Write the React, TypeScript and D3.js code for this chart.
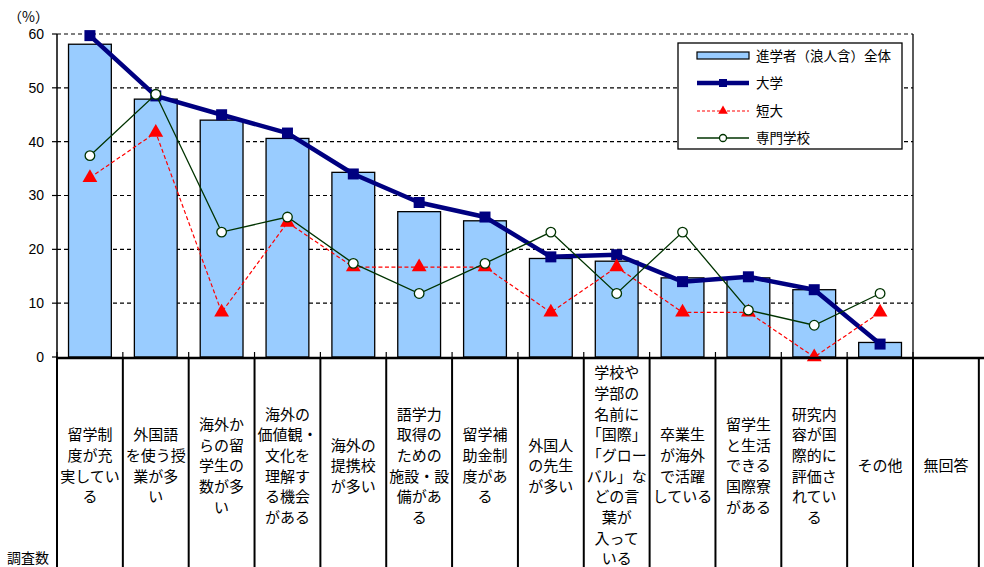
import React from "react";
import * as d3 from "d3";

const categories: string[][] = [
  ["留学制", "度が充", "実してい", "る"],
  ["外国語", "を使う授", "業が多", "い"],
  ["海外か", "らの留", "学生の", "数が多", "い"],
  ["海外の", "価値観・", "文化を", "理解す", "る機会", "がある"],
  ["海外の", "提携校", "が多い"],
  ["語学力", "取得の", "ための", "施設・設", "備があ", "る"],
  ["留学補", "助金制", "度があ", "る"],
  ["外国人", "の先生", "が多い"],
  ["学校や", "学部の", "名前に", "「国際」", "「グロー", "バル」な", "どの言", "葉が", "入って", "いる"],
  ["卒業生", "が海外", "で活躍", "している"],
  ["留学生", "と生活", "できる", "国際寮", "がある"],
  ["研究内", "容が国", "際的に", "評価さ", "れてい", "る"],
  ["その他"],
  ["無回答"],
];

const overall = [58.1, 47.9, 44.0, 40.6, 34.3, 27.0, 25.3, 18.3, 17.8, 14.7, 14.7, 12.5, 2.7];
const univ = [59.7, 48.5, 45.0, 41.6, 34.0, 28.7, 26.0, 18.6, 19.0, 14.0, 14.9, 12.5, 2.4];
const junior = [33.3, 41.7, 8.3, 25.0, 16.7, 16.7, 16.7, 8.3, 16.7, 8.3, 8.3, 0, 8.3];
const vocational = [37.4, 48.8, 23.2, 26.0, 17.4, 11.8, 17.4, 23.2, 11.8, 23.2, 8.7, 5.9, 11.8];
const yTicks = [0, 10, 20, 30, 40, 50, 60];
const legendLabels = ["進学者（浪人含）全体", "大学", "短大", "専門学校"];

const W = 984, H = 567;
const left = 57, right = 913, top = 34, bottom = 357;
const JP = "'Noto Sans CJK JP', 'Liberation Sans', sans-serif";
const NUM = "'Liberation Sans', Arial, sans-serif";

export default function App() {
  const nPlot = overall.length;
  const step = (right - left) / nPlot;
  const x = d3.scaleBand<number>().domain(d3.range(nPlot)).range([left, right]).paddingInner(0.35).paddingOuter(0.175);
  const cx = (i: number) => left + step * (i + 0.5);
  const y = d3.scaleLinear().domain([0, 60]).range([bottom, top]);
  const line = d3.line<number>().x((_, i) => cx(i)).y((d) => y(d));
  const tri = d3.symbol().type(d3.symbolTriangle).size(95)();

  const lineH = 20.7;
  const labelCenter = 466;

  const legX0 = 697, legX1 = 749, legTx = 756;
  const legRows = [56, 83, 111, 138];

  return (
    <svg width={W} height={H} style={{ position: "absolute", left: 0, top: 0, background: "#fff" }}>
      {yTicks.filter((t) => t > 0).map((t) => (
        <line key={t} x1={left} x2={right} y1={y(t)} y2={y(t)} stroke="#000" strokeWidth={1.2} strokeDasharray="4,3" />
      ))}
      <line x1={right} x2={right} y1={top} y2={bottom} stroke="#000" strokeWidth={1.3} />
      {overall.map((v, i) => (
        <rect key={i} x={x(i)} y={y(v)} width={x.bandwidth()} height={bottom - y(v)} fill="#99CCFF" stroke="#000" strokeWidth={1.3} />
      ))}
      <line x1={left} x2={left} y1={top} y2={bottom} stroke="#000" strokeWidth={1.5} />
      {yTicks.map((t) => (
        <g key={t}>
          <line x1={left - 5} x2={left} y1={y(t)} y2={y(t)} stroke="#000" strokeWidth={1.2} />
          <text x={left - 13} y={y(t)} dy="0.35em" textAnchor="end" fontFamily={NUM} fontSize={14} fill="#000">{t}</text>
        </g>
      ))}
      <text x={8} y={17} dy="0.35em" fontFamily={JP} fontSize={14} fill="#000">（%）</text>
      {d3.range(nPlot + 1).map((i) => (
        <line key={i} x1={left + step * i} x2={left + step * i} y1={bottom - 5} y2={bottom} stroke="#000" strokeWidth={1.2} />
      ))}
      <path d={line(univ) || ""} fill="none" stroke="#000080" strokeWidth={4.5} strokeLinejoin="round" />
      {univ.map((v, i) => (
        <rect key={i} x={cx(i) - 5.5} y={y(v) - 5.5} width={11} height={11} fill="#000080" />
      ))}
      <path d={line(junior) || ""} fill="none" stroke="#FF0000" strokeWidth={1.2} strokeDasharray="4,2.5" />
      {junior.map((v, i) => (
        <path key={i} d={tri || ""} transform={`translate(${cx(i)},${y(v)})`} fill="#FF0000" />
      ))}
      <path d={line(vocational) || ""} fill="none" stroke="#003300" strokeWidth={1.3} />
      {vocational.map((v, i) => (
        <circle key={i} cx={cx(i)} cy={y(v)} r={4.8} fill="#fff" stroke="#003300" strokeWidth={1.3} />
      ))}
      <line x1={left} x2={W} y1={bottom + 1} y2={bottom + 1} stroke="#000" strokeWidth={2.5} />
      {d3.range(categories.length + 1).map((i) => (
        <line key={i} x1={left + step * i} x2={left + step * i} y1={bottom} y2={H} stroke="#000" strokeWidth={2} />
      ))}
      {categories.map((lines, i) => {
        const c = left + step * (i + 0.5);
        const y0 = labelCenter - ((lines.length - 1) * lineH) / 2;
        return (
          <text key={i} textAnchor="middle" fontFamily={JP} fontSize={15} fill="#000">
            {lines.map((l, k) => (
              <tspan key={k} x={c} y={y0 + k * lineH} dy="0.35em">{l}</tspan>
            ))}
          </text>
        );
      })}
      <text x={7} y={558} dy="0.35em" fontFamily={JP} fontSize={14} fill="#000">調査数</text>
      <rect x={678} y={43} width={224} height={106} fill="#fff" stroke="#000" strokeWidth={1.3} />
      <rect x={legX0} y={52} width={legX1 - legX0} height={7} fill="#99CCFF" stroke="#000" strokeWidth={1.2} />
      <line x1={legX0} x2={legX1} y1={legRows[1]} y2={legRows[1]} stroke="#000080" strokeWidth={4.5} />
      <rect x={(legX0 + legX1) / 2 - 4} y={legRows[1] - 4} width={8} height={8} fill="#000080" />
      <line x1={legX0} x2={legX1} y1={legRows[2]} y2={legRows[2]} stroke="#FF0000" strokeWidth={1.2} strokeDasharray="3,2" />
      <path d={d3.symbol().type(d3.symbolTriangle).size(40)() || ""} transform={`translate(${(legX0 + legX1) / 2},${legRows[2]})`} fill="#FF0000" />
      <line x1={legX0} x2={legX1} y1={legRows[3]} y2={legRows[3]} stroke="#003300" strokeWidth={1.3} />
      <circle cx={(legX0 + legX1) / 2} cy={legRows[3]} r={3.5} fill="#fff" stroke="#003300" strokeWidth={1.3} />
      {legendLabels.map((l, i) => (
        <text key={i} x={legTx} y={legRows[i]} dy="0.35em" fontFamily={JP} fontSize={13.5} fill="#000">{l}</text>
      ))}
    </svg>
  );
}
